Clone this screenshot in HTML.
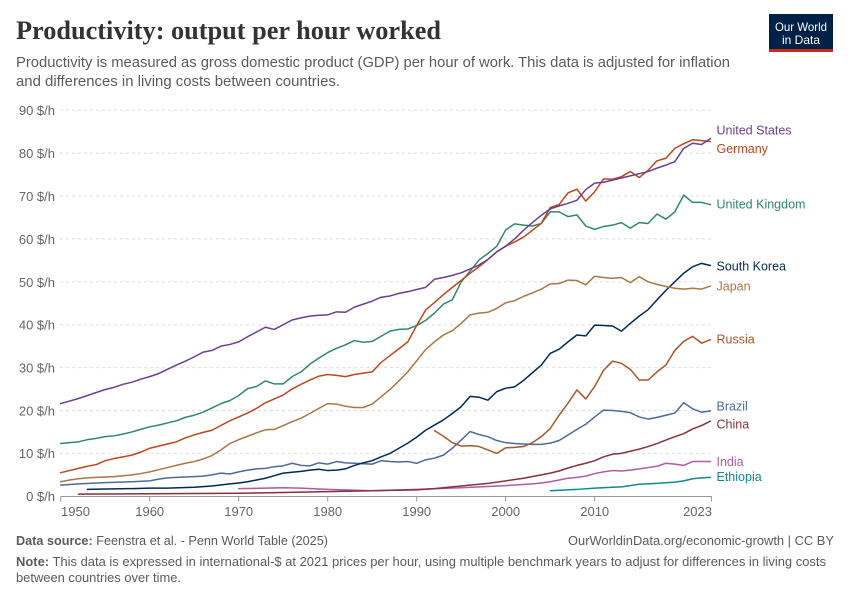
<!DOCTYPE html>
<html><head><meta charset="utf-8"><style>
html,body{margin:0;padding:0;background:#fff;}
svg{display:block;font-family:"Liberation Sans",sans-serif;}
</style></head><body>
<svg width="850" height="600" viewBox="0 0 850 600" xmlns="http://www.w3.org/2000/svg">
<rect width="850" height="600" fill="#fff"/>
<text x="16" y="39" font-family="Liberation Serif,serif" font-size="26" font-weight="bold" fill="#333" textLength="425" lengthAdjust="spacingAndGlyphs">Productivity: output per hour worked</text>
<text x="16" y="67" font-size="14.5" fill="#5b5b5b" textLength="714" lengthAdjust="spacingAndGlyphs">Productivity is measured as gross domestic product (GDP) per hour of work. This data is adjusted for inflation</text>
<text x="16" y="86" font-size="14.5" fill="#5b5b5b" textLength="324" lengthAdjust="spacingAndGlyphs">and differences in living costs between countries.</text>
<rect x="769" y="14" width="64" height="38" fill="#002147"/>
<rect x="769" y="49" width="64" height="3" fill="#ce261e"/>
<text x="801" y="31" font-size="12" fill="#fff" text-anchor="middle" textLength="52" lengthAdjust="spacingAndGlyphs">Our World</text>
<text x="801" y="44" font-size="12" fill="#fff" text-anchor="middle" textLength="38" lengthAdjust="spacingAndGlyphs">in Data</text>
<g stroke="#dddddd" stroke-width="1" stroke-dasharray="3,3">
<line x1="60" y1="110.2" x2="712" y2="110.2"/>
<line x1="60" y1="153.1" x2="712" y2="153.1"/>
<line x1="60" y1="196" x2="712" y2="196"/>
<line x1="60" y1="238.9" x2="712" y2="238.9"/>
<line x1="60" y1="281.8" x2="712" y2="281.8"/>
<line x1="60" y1="324.7" x2="712" y2="324.7"/>
<line x1="60" y1="367.6" x2="712" y2="367.6"/>
<line x1="60" y1="410.5" x2="712" y2="410.5"/>
<line x1="60" y1="453.4" x2="712" y2="453.4"/>
</g>
<g font-size="13" fill="#666" text-anchor="end">
<text x="55" y="115">90 $/h</text>
<text x="55" y="158">80 $/h</text>
<text x="55" y="201">70 $/h</text>
<text x="55" y="244">60 $/h</text>
<text x="55" y="287">50 $/h</text>
<text x="55" y="329.5">40 $/h</text>
<text x="55" y="372.5">30 $/h</text>
<text x="55" y="415.5">20 $/h</text>
<text x="55" y="458">10 $/h</text>
<text x="55" y="501">0 $/h</text>
</g>
<g stroke="#999" stroke-width="1">
<line x1="60.5" y1="496.5" x2="712" y2="496.5"/>
<line x1="60.7" y1="496.5" x2="60.7" y2="501.5"/>
<line x1="149.7" y1="496.5" x2="149.7" y2="501.5"/>
<line x1="238.7" y1="496.5" x2="238.7" y2="501.5"/>
<line x1="327.7" y1="496.5" x2="327.7" y2="501.5"/>
<line x1="416.7" y1="496.5" x2="416.7" y2="501.5"/>
<line x1="505.7" y1="496.5" x2="505.7" y2="501.5"/>
<line x1="594.7" y1="496.5" x2="594.7" y2="501.5"/>
<line x1="711.4" y1="496.5" x2="711.4" y2="501.5"/>
</g>
<g font-size="13" fill="#666" text-anchor="middle">
<text x="61" y="516" text-anchor="start">1950</text>
<text x="149.7" y="516">1960</text>
<text x="238.7" y="516">1970</text>
<text x="327.7" y="516">1980</text>
<text x="416.7" y="516">1990</text>
<text x="505.7" y="516">2000</text>
<text x="594.7" y="516">2010</text>
<text x="712" y="516" text-anchor="end">2023</text>
</g>
<g transform="matrix(8.9 0 0 -4.29 60.7 496.3)" fill="none" stroke-width="1.5" stroke-linejoin="round" stroke-linecap="round">
<polyline vector-effect="non-scaling-stroke" stroke="#0f8a93" points="55,1.3 58,1.6 60,1.9 62,2.1 63,2.2 64,2.5 65,2.8 67,3.0 69,3.3 70,3.6 71,4.1 72,4.3 73,4.4"/>
<polyline vector-effect="non-scaling-stroke" stroke="#b05aa8" points="20,1.8 23,1.9 25,2.0 27,1.9 30,1.6 35,1.3 40,1.6 45,2.0 50,2.5 53,2.9 54,3.1 55,3.4 56,3.8 57,4.2 58,4.4 59,4.7 60,5.3 61,5.7 62,6.0 63,5.9 64,6.1 65,6.4 66,6.7 67,7.0 68,7.7 69,7.5 70,7.2 71,8.1 72,8.1 73,8.1"/>
<polyline vector-effect="non-scaling-stroke" stroke="#883039" points="2,0.5 10,0.6 20,0.7 25,0.9 30,1.1 35,1.3 40,1.5 42,1.8 45,2.4 48,3.0 50,3.6 52,4.2 54,5.0 55,5.4 56,5.9 57,6.6 58,7.2 59,7.7 60,8.3 61,9.2 62,9.8 63,10.0 64,10.5 65,11.0 66,11.6 67,12.3 68,13.1 69,13.9 70,14.6 71,15.7 72,16.5 73,17.5"/>
<polyline vector-effect="non-scaling-stroke" stroke="#4c6a9c" points="0,2.6 2,2.9 5,3.2 8,3.4 10,3.6 11,4.0 12,4.3 13,4.4 14,4.5 15,4.6 16,4.7 17,5.0 18,5.4 19,5.2 20,5.7 21,6.1 22,6.4 23,6.5 24,6.9 25,7.1 26,7.7 27,7.2 28,7.1 29,7.8 30,7.5 31,8.1 32,7.8 33,7.7 34,7.6 35,7.5 36,8.3 37,8.1 38,8.0 39,8.1 40,7.7 41,8.5 42,8.9 43,9.6 44,11.2 45,13.1 46,15.1 47,14.4 48,13.9 49,13.0 50,12.5 51,12.3 52,12.2 53,12.1 54,12.1 55,12.4 56,13.0 57,14.3 58,15.6 59,16.8 60,18.5 61,20.1 62,20.0 63,19.8 64,19.5 65,18.5 66,18.0 67,18.4 68,18.9 69,19.4 70,21.8 71,20.4 72,19.6 73,19.9"/>
<polyline vector-effect="non-scaling-stroke" stroke="#a9572a" points="42,15.3 43,14.0 44,12.5 45,11.7 46,11.8 47,11.6 48,10.8 49,10.0 50,11.3 51,11.4 52,11.6 53,12.5 54,13.9 55,15.8 56,18.9 57,21.7 58,24.8 59,22.7 60,25.6 61,29.4 62,31.5 63,31.0 64,29.6 65,27.1 66,27.1 67,29.0 68,30.6 69,34.0 70,36.1 71,37.3 72,35.7 73,36.5"/>
<polyline vector-effect="non-scaling-stroke" stroke="#00295b" points="3,1.6 5,1.7 8,1.8 10,1.9 12,1.9 15,2.1 17,2.4 19,2.9 20,3.1 21,3.4 22,3.8 23,4.2 24,4.8 25,5.4 26,5.6 27,5.8 28,6.1 29,6.3 30,6.0 31,6.1 32,6.4 33,7.2 34,7.8 35,8.3 36,9.2 37,10.0 38,11.2 39,12.4 40,13.8 41,15.4 42,16.6 43,17.8 44,19.3 45,20.9 46,23.3 47,23.1 48,22.4 49,24.4 50,25.2 51,25.5 52,27.0 53,28.8 54,30.6 55,33.3 56,34.3 57,36.0 58,37.6 59,37.4 60,39.9 61,39.8 62,39.7 63,38.5 64,40.3 65,42.0 66,43.5 67,45.8 68,48.0 69,50.0 70,52.0 71,53.5 72,54.3 73,53.8"/>
<polyline vector-effect="non-scaling-stroke" stroke="#ad7640" points="0,3.4 1,3.8 2,4.1 3,4.3 4,4.4 5,4.5 6,4.6 7,4.8 8,5.0 9,5.3 10,5.7 11,6.2 12,6.7 13,7.2 14,7.7 15,8.1 16,8.7 17,9.5 18,10.8 19,12.3 20,13.2 21,14.0 22,14.8 23,15.5 24,15.6 25,16.5 26,17.4 27,18.2 28,19.3 29,20.5 30,21.6 31,21.5 32,21.0 33,20.7 34,20.7 35,21.5 36,23.2 37,24.9 38,26.9 39,29.0 40,31.6 41,34.2 42,36.0 43,37.6 44,38.6 45,40.3 46,42.3 47,42.7 48,42.9 49,43.8 50,45.1 51,45.6 52,46.6 53,47.4 54,48.3 55,49.5 56,49.6 57,50.4 58,50.3 59,49.3 60,51.3 61,51.0 62,50.8 63,51.0 64,49.8 65,51.2 66,50.0 67,49.4 68,48.9 69,48.5 70,48.3 71,48.5 72,48.3 73,49.0"/>
<polyline vector-effect="non-scaling-stroke" stroke="#2c8a67" points="0,12.3 1,12.5 2,12.7 3,13.2 4,13.5 5,13.9 6,14.1 7,14.5 8,15.0 9,15.6 10,16.2 11,16.6 12,17.1 13,17.6 14,18.4 15,18.9 16,19.6 17,20.6 18,21.6 19,22.3 20,23.5 21,25.1 22,25.6 23,26.9 24,26.2 25,26.2 26,27.9 27,29.0 28,30.8 29,32.2 30,33.5 31,34.5 32,35.3 33,36.3 34,35.9 35,36.1 36,37.3 37,38.5 38,38.9 39,39.0 40,39.8 41,41.0 42,42.7 43,44.8 44,45.8 45,50.0 46,52.5 47,55.1 48,56.6 49,58.3 50,62.1 51,63.5 52,63.2 53,63.0 54,63.6 55,66.3 56,66.3 57,65.2 58,65.6 59,63.0 60,62.2 61,62.9 62,63.2 63,63.8 64,62.5 65,63.8 66,63.6 67,65.8 68,64.6 69,66.3 70,70.2 71,68.5 72,68.5 73,68.0"/>
<polyline vector-effect="non-scaling-stroke" stroke="#c0461a" points="0,5.5 1,6.0 2,6.5 3,7.0 4,7.4 5,8.3 6,8.8 7,9.2 8,9.6 9,10.3 10,11.2 11,11.7 12,12.2 13,12.7 14,13.6 15,14.3 16,14.9 17,15.4 18,16.5 19,17.6 20,18.5 21,19.4 22,20.5 23,21.8 24,22.7 25,23.6 26,25.0 27,26.1 28,27.1 29,28.0 30,28.4 31,28.2 32,27.9 33,28.4 34,28.7 35,29.0 36,31.2 37,32.8 38,34.4 39,36.0 40,39.8 41,43.4 42,45.2 43,47.0 44,48.7 45,50.3 46,52.0 47,53.5 48,55.2 49,57.0 50,58.3 51,59.3 52,60.4 53,62.0 54,63.6 55,67.3 56,68.0 57,70.7 58,71.6 59,68.8 60,71.0 61,74.0 62,73.9 63,74.5 64,75.7 65,74.3 66,76.0 67,78.2 68,78.8 69,81.1 70,82.2 71,83.1 72,82.9 73,82.7"/>
<polyline vector-effect="non-scaling-stroke" stroke="#6d3e91" points="0,21.6 1,22.2 2,22.8 3,23.5 4,24.2 5,24.9 6,25.4 7,26.1 8,26.6 9,27.3 10,27.9 11,28.6 12,29.6 13,30.6 14,31.5 15,32.5 16,33.6 17,34.0 18,35.0 19,35.4 20,36.0 21,37.2 22,38.3 23,39.4 24,38.9 25,40.0 26,41.1 27,41.6 28,42.0 29,42.2 30,42.3 31,43.0 32,42.9 33,44.1 34,44.8 35,45.5 36,46.4 37,46.7 38,47.3 39,47.7 40,48.2 41,48.7 42,50.6 43,51.0 44,51.5 45,52.1 46,53.0 47,53.9 48,55.2 49,57.0 50,58.3 51,60.0 52,62.0 53,63.8 54,65.5 55,67.0 56,67.7 57,68.3 58,69.0 59,71.5 60,73.0 61,73.2 62,73.7 63,74.2 64,74.7 65,75.2 66,75.7 67,76.5 68,77.2 69,78.0 70,81.1 71,82.3 72,82.0 73,83.4"/>
</g>
<g font-size="12.5" dominant-baseline="middle">
<text x="716.5" y="131" fill="#6d3e91">United States</text>
<text x="716.5" y="149.5" fill="#c0461a">Germany</text>
<text x="716.5" y="205" fill="#2c8a67">United Kingdom</text>
<text x="716.5" y="267" fill="#00295b">South Korea</text>
<text x="716.5" y="287" fill="#ad7640">Japan</text>
<text x="716.5" y="340" fill="#a9572a">Russia</text>
<text x="716.5" y="407.3" fill="#4c6a9c">Brazil</text>
<text x="716.5" y="425.3" fill="#883039">China</text>
<text x="716.5" y="462.7" fill="#b05aa8">India</text>
<text x="716.5" y="477.5" fill="#0f8a93">Ethiopia</text>
</g>
<text x="16" y="545" font-size="12.5" fill="#5b5b5b" textLength="312" lengthAdjust="spacingAndGlyphs"><tspan font-weight="bold">Data source:</tspan> Feenstra et al. - Penn World Table (2025)</text>
<text x="834" y="545" font-size="12.5" fill="#5b5b5b" text-anchor="end" textLength="266" lengthAdjust="spacingAndGlyphs">OurWorldinData.org/economic-growth | CC BY</text>
<text x="16" y="566" font-size="12.5" fill="#5b5b5b" textLength="810" lengthAdjust="spacingAndGlyphs"><tspan font-weight="bold">Note:</tspan> This data is expressed in international-$ at 2021 prices per hour, using multiple benchmark years to adjust for differences in living costs</text>
<text x="16" y="582" font-size="12.5" fill="#5b5b5b" textLength="165" lengthAdjust="spacingAndGlyphs">between countries over time.</text>
</svg>
</body></html>
